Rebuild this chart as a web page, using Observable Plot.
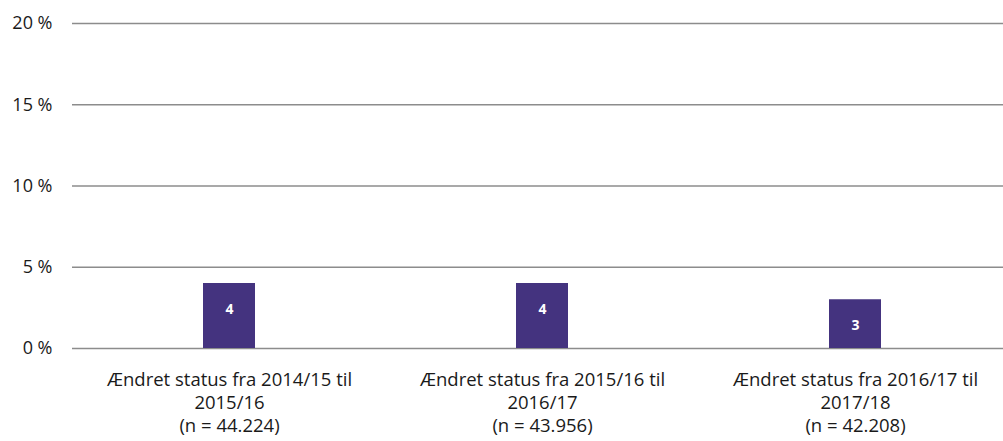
<!DOCTYPE html>
<html>
<head>
<meta charset="utf-8">
<script src="https://cdn.jsdelivr.net/npm/d3@7"></script>
<script src="https://cdn.jsdelivr.net/npm/@observablehq/plot@0.6"></script>
<style>
  html, body { margin: 0; padding: 0; background: #fff; }
  #chart svg { display: block; }
</style>
</head>
<body>
<div id="chart"></div>
<script>
const categories = [
  "Ændret status fra 2014/15 til\n2015/16\n(n = 44.224)",
  "Ændret status fra 2015/16 til\n2016/17\n(n = 43.956)",
  "Ændret status fra 2016/17 til\n2017/18\n(n = 42.208)"
];
const values = [4, 4, 3];
const yTicks = [0, 5, 10, 15, 20];

const data = categories.map((c, i) => ({cat: c, value: values[i]}));

const chart = Plot.plot({
  width: 1003,
  height: 441,
  marginLeft: 72,
  marginRight: 0,
  marginTop: 23,
  marginBottom: 93,
  style: {fontFamily: "'Open Sans', sans-serif", fontSize: "18px", color: "#1a1a1a", background: "#fff"},
  x: {domain: categories, range: [72.5, 1011.5], paddingInner: 0.834, paddingOuter: 0.417, label: null},
  y: {domain: [0, 20], label: null},
  marks: [
    Plot.ruleY(yTicks, {stroke: "#8c8c8c", strokeWidth: 1.5}),
    Plot.axisY(yTicks, {tickSize: 0, tickPadding: 20, tickFormat: d => d + " %", fontSize: 18, fill: "#1a1a1a", label: null}),
    Plot.axisX({tickSize: 0, tickPadding: 21, fontSize: 18.5, lineHeight: 1.25, fill: "#1a1a1a", label: null}),
    Plot.barY(data, {x: "cat", y: "value", fill: "#44337f"}),
    Plot.text(data, {x: "cat", y: "value", text: d => String(d.value), dy: 26, fill: "#fff", fontWeight: "bold", fontSize: 14})
  ]
});
document.getElementById("chart").append(chart);
</script>
</body>
</html>
